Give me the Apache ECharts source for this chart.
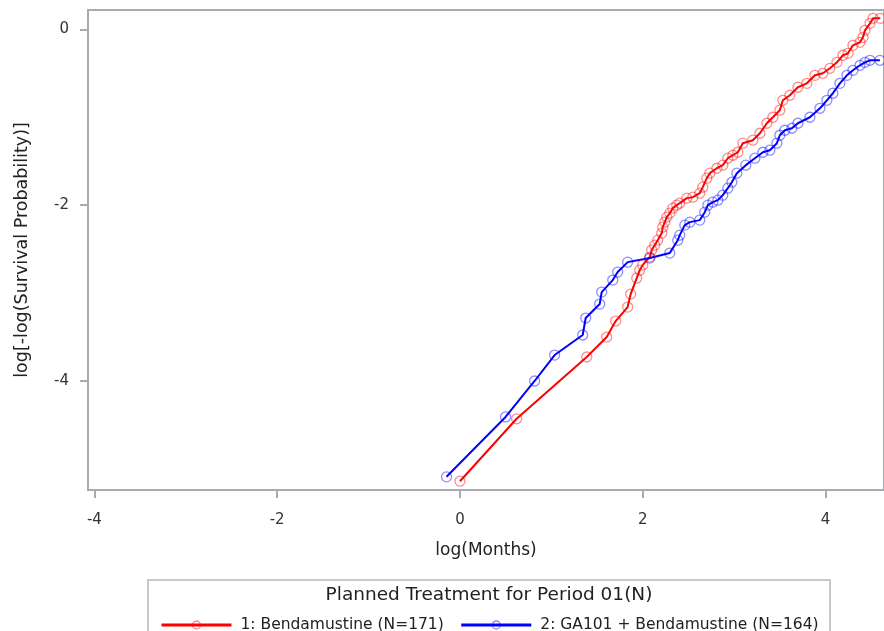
<!DOCTYPE html>
<html>
<head>
<meta charset="utf-8">
<script src="https://cdn.jsdelivr.net/npm/echarts@6/dist/echarts.min.js"></script>
<style>
  html, body { margin: 0; padding: 0; background: #fff; }
  #chart { width: 884px; height: 631px; }
</style>
</head>
<body>
<div id="chart"></div>
<script>
// log(Months) and log[-log(S)] for each arm
const benda = [
  [0.00,-5.14],[0.62,-4.43],[1.387,-3.727],[1.606,-3.50],[1.704,-3.318],[1.835,-3.159],
  [1.868,-3.011],[1.934,-2.83],[1.967,-2.739],[2.00,-2.68],[2.077,-2.59],[2.098,-2.511],
  [2.131,-2.455],[2.164,-2.398],[2.208,-2.318],[2.219,-2.25],[2.241,-2.193],[2.263,-2.136],
  [2.296,-2.091],[2.329,-2.034],[2.372,-2.0],[2.405,-1.977],[2.482,-1.92],[2.548,-1.909],
  [2.624,-1.864],[2.657,-1.795],[2.701,-1.693],[2.734,-1.636],[2.811,-1.58],[2.876,-1.545],
  [2.931,-1.466],[2.986,-1.432],[3.041,-1.398],[3.095,-1.295],[3.205,-1.261],[3.282,-1.182],
  [3.358,-1.068],[3.424,-1.0],[3.50,-0.92],[3.533,-0.807],[3.61,-0.75],[3.698,-0.659],
  [3.796,-0.614],[3.884,-0.523],[3.971,-0.50],[4.048,-0.443],[4.125,-0.375],[4.191,-0.295],
  [4.246,-0.273],[4.30,-0.182],[4.377,-0.148],[4.41,-0.091],[4.432,-0.011],[4.487,0.068],
  [4.52,0.125],[4.60,0.125]
];
const ga101Benda = [
  [-0.147,-5.09],[0.499,-4.409],[0.817,-4.0],[1.036,-3.705],[1.343,-3.477],[1.376,-3.284],
  [1.529,-3.125],[1.551,-2.989],[1.672,-2.852],[1.726,-2.761],[1.835,-2.648],[2.077,-2.602],
  [2.296,-2.545],[2.383,-2.398],[2.405,-2.341],[2.46,-2.227],[2.515,-2.193],[2.624,-2.17],
  [2.679,-2.08],[2.712,-2.0],[2.767,-1.966],[2.822,-1.943],[2.876,-1.886],[2.931,-1.807],
  [2.975,-1.739],[3.03,-1.636],[3.128,-1.545],[3.227,-1.466],[3.315,-1.398],[3.391,-1.375],
  [3.468,-1.295],[3.50,-1.205],[3.555,-1.148],[3.632,-1.125],[3.698,-1.068],[3.829,-1.0],
  [3.939,-0.898],[4.015,-0.807],[4.081,-0.727],[4.157,-0.614],[4.234,-0.523],[4.30,-0.466],
  [4.377,-0.409],[4.432,-0.375],[4.487,-0.352],[4.595,-0.352]
];
const xTicks = [-4, -2, 0, 2, 4];
const yTicks = [-4, -2, 0];
const seriesNames = ['1: Bendamustine (N=171)', '2: GA101 + Bendamustine (N=164)'];
const armColors = ['#ff0000', '#0000ff'];
const markerColors = ['rgba(255,0,0,0.45)', 'rgba(0,0,255,0.45)'];
const legendTitle = 'Planned Treatment for Period 01(N)';

const FONT = '"DejaVu Sans", "Noto Sans", sans-serif';
const chart = echarts.init(document.getElementById('chart'), null, { renderer: 'canvas' });

function arm(i, data) {
  return {
    name: seriesNames[i], type: 'line', data,
    symbol: 'circle', symbolSize: 10, showAllSymbol: true,
    lineStyle: { color: armColors[i], width: 2 },
    itemStyle: { color: 'rgba(255,255,255,0)', borderColor: markerColors[i], borderWidth: 1.3 },
    emphasis: { disabled: true },
    z: 3
  };
}

chart.setOption({
  animation: false,
  grid: { left: 88, right: 0, top: 10, bottom: 141, show: true, borderColor: '#a8acb0', borderWidth: 2 },
  xAxis: {
    type: 'value', min: -4.07, max: 4.64,
    name: 'log(Months)', nameLocation: 'middle', nameGap: 52,
    nameTextStyle: { fontFamily: FONT, fontSize: 17, color: '#222' },
    axisLine: { show: false, onZero: false },
    axisTick: { show: true, customValues: xTicks, length: 8, lineStyle: { color: '#a8acb0', width: 2 } },
    axisLabel: { customValues: xTicks, fontFamily: FONT, fontSize: 15, color: '#333', margin: 23 },
    splitLine: { show: false }
  },
  yAxis: {
    type: 'value', min: -5.24, max: 0.22,
    name: 'log[-log(Survival Probability)]', nameLocation: 'middle', nameGap: 57,
    nameTextStyle: { fontFamily: FONT, fontSize: 17.5, color: '#222' },
    axisLine: { show: false, onZero: false },
    axisTick: { show: true, customValues: yTicks, length: 8, lineStyle: { color: '#a8acb0', width: 2 } },
    axisLabel: { customValues: yTicks, fontFamily: FONT, fontSize: 15, color: '#333', margin: 19 },
    splitLine: { show: false }
  },
  legend: {
    left: 155, top: 612, itemWidth: 70, itemHeight: 10, itemGap: 16,
    textStyle: { fontFamily: FONT, fontSize: 15.5, color: '#222', padding: [0, 0, 0, 4] },
    data: seriesNames.map((n, i) => ({
      name: n,
      itemStyle: { color: 'rgba(255,255,255,0)', borderColor: markerColors[i], borderWidth: 1.3 },
      lineStyle: { color: armColors[i], width: 3 }
    }))
  },
  graphic: [
    { type: 'rect', shape: { x: 148, y: 580, width: 682, height: 60 },
      style: { fill: 'none', stroke: '#c8c8c8', lineWidth: 2 }, silent: true },
    { type: 'text', x: 489, y: 595,
      style: { text: legendTitle, font: '18.5px ' + FONT, fill: '#222', align: 'center', verticalAlign: 'middle' }, silent: true }
  ],
  series: [arm(0, benda), arm(1, ga101Benda)]
});
</script>
</body>
</html>
